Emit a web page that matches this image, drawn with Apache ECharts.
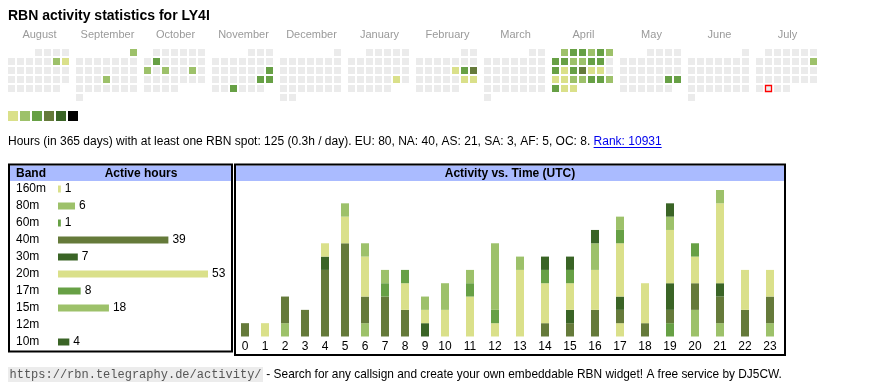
<!DOCTYPE html>
<html><head><meta charset="utf-8">
<script src="https://cdn.jsdelivr.net/npm/echarts@6/dist/echarts.min.js"></script>
<style>html,body{margin:0;padding:0;background:#fff}#c{width:870px;height:390px}</style>
</head><body><div id="c"></div>
<script>
// ---------- DATA ----------
const chartTitle = 'RBN activity statistics for LY4I';
const monthNames = ['August','September','October','November','December','January','February','March','April','May','June','July'];
const monthKeys = ['2024-08','2024-09','2024-10','2024-11','2024-12','2025-01','2025-02','2025-03','2025-04','2025-05','2025-06','2025-07'];
const levelColors = ['#dae08a','#9dc16a','#67a045','#657a3a','#3a6426','#000000'];
const activeDays = ['2024-08-10','2024-08-11','2024-09-01','2024-09-19','2024-10-08','2024-10-14','2024-10-16','2024-10-19',
  '2024-11-17','2024-11-23','2024-11-24','2024-11-27','2025-01-25','2025-02-14','2025-02-15','2025-02-16','2025-02-22','2025-02-23',
  '2025-04-01','2025-04-02','2025-04-03','2025-04-04','2025-04-05','2025-04-06','2025-04-07','2025-04-08','2025-04-09','2025-04-10',
  '2025-04-11','2025-04-12','2025-04-14','2025-04-15','2025-04-16','2025-04-17','2025-04-18','2025-04-19','2025-04-21','2025-04-22',
  '2025-04-23','2025-04-24','2025-04-25','2025-04-26','2025-04-27','2025-04-28','2025-04-29','2025-04-30','2025-05-24','2025-05-25','2025-07-13'];
const activeLevels = [2,1,2,2,3,2,2,2,
  3,3,3,3,1,1,3,4,1,1,
  2,3,3,2,3,2,3,3,2,2,
  3,3,3,1,3,4,1,1,1,1,
  2,2,3,3,2,3,1,1,3,3,2];
const todayDate = '2025-07-29';

const infoText = 'Hours (in 365 days) with at least one RBN spot: 125 (0.3h / day). EU: 80, NA: 40, AS: 21, SA: 3, AF: 5, OC: 8. ';
const rankText = 'Rank: 10931';

const bands = ['160m','80m','60m','40m','30m','20m','17m','15m','12m','10m'];
const bandHours = [1,6,1,39,7,53,8,18,0,4];
const bandColors = ['#dae08a','#9dc16a','#67a045','#657a3a','#3a6426','#dae08a','#67a045','#9dc16a','#657a3a','#3a6426'];

const hourLabels = ['0','1','2','3','4','5','6','7','8','9','10','11','12','13','14','15','16','17','18','19','20','21','22','23'];
const h160m = [0,0,0,0,0,0,0,0,0,0,0,0,0,0,0,0,0,1,0,0,0,0,0,0];
const h80m  = [0,0,1,0,0,0,1,0,0,0,0,0,0,0,0,0,0,0,0,0,2,1,0,1];
const h60m  = [0,0,0,0,0,0,0,0,0,0,0,0,0,0,0,0,0,0,0,1,0,0,0,0];
const h40m  = [1,0,2,2,5,7,2,3,2,0,0,0,0,0,1,1,2,1,1,1,2,2,2,2];
const h30m  = [0,0,0,0,1,0,0,0,0,1,0,0,0,0,0,1,0,1,0,2,0,1,0,0];
const h20m  = [0,1,0,0,1,2,3,0,2,1,2,3,1,5,3,2,3,4,3,4,2,6,3,2];
const h17m  = [0,0,0,0,0,0,0,1,1,0,0,1,1,0,1,1,0,1,0,0,1,0,0,0];
const h15m  = [0,0,0,0,0,1,1,1,0,1,2,1,5,1,0,0,2,1,0,1,0,1,0,0];
const h12m  = [0,0,0,0,0,0,0,0,0,0,0,0,0,0,0,0,0,0,0,0,0,0,0,0];
const h10m  = [0,0,0,0,0,0,0,0,0,0,0,0,0,0,1,1,1,0,0,1,0,0,0,0];
const hourlyByBand = [h160m,h80m,h60m,h40m,h30m,h20m,h17m,h15m,h12m,h10m];

const footerUrl = 'https://rbn.telegraphy.de/activity/';
const footerText = ' - Search for any callsign and create your own embeddable RBN widget! A free service by DJ5CW.';

// ---------- RENDER ----------
const FONT = '"Liberation Sans", Arial, Helvetica, sans-serif';
const MONO = '"Liberation Mono", "DejaVu Sans Mono", monospace';
const chart = echarts.init(document.getElementById('c'), null, {renderer: 'canvas', width: 870, height: 390});
const mctx = document.createElement('canvas').getContext('2d');
function textW(t, f) { mctx.font = f; return mctx.measureText(t).width; }

const calendars = monthKeys.map((k, m) => ({
  orient: 'vertical', range: k, cellSize: [9, 9], left: 7 + m * 68, top: 48,
  splitLine: {show: false},
  itemStyle: {color: '#ebebeb', borderColor: '#ffffff', borderWidth: 2},
  dayLabel: {show: false, firstDay: 1}, monthLabel: {show: false}, yearLabel: {show: false}, silent: true
}));

const series = [];
monthKeys.forEach((k, m) => {
  const data = [];
  activeDays.forEach((d, i) => {
    if (d.slice(0, 7) === k) data.push({value: [d, activeLevels[i]], itemStyle: {color: levelColors[activeLevels[i] - 1], opacity: 1}});
  });
  series.push({type: 'scatter', coordinateSystem: 'calendar', calendarIndex: m, symbol: 'rect', symbolSize: 7,
    itemStyle: {opacity: 1}, data: data, silent: true, animation: false});
});
series.push({type: 'scatter', coordinateSystem: 'calendar', calendarIndex: monthKeys.indexOf(todayDate.slice(0, 7)),
  symbol: 'rect', symbolSize: 6, z: 5, silent: true, animation: false,
  data: [{value: [todayDate, 0], itemStyle: {color: '#ebebeb', borderColor: '#ff0000', borderWidth: 1.3, opacity: 1}}],
  itemStyle: {color: '#ebebeb', borderColor: '#ff0000', borderWidth: 1.3, opacity: 1}});

const maxStack = Math.max(...hourLabels.map((h, i) => hourlyByBand.reduce((s, arr) => s + arr[i], 0)));
bands.forEach((b, bi) => {
  [0, 1].forEach(g => {
    const arr = g === 0 ? hourlyByBand[bi].slice(0, 10) : hourlyByBand[bi].slice(10);
    series.push({type: 'bar', xAxisIndex: g, yAxisIndex: g, stack: 'S' + g, barWidth: 8, name: b,
      data: arr, itemStyle: {color: bandColors[bi]}, silent: true, animation: false});
  });
});
series.push({type: 'bar', xAxisIndex: 2, yAxisIndex: 2, barWidth: 7, silent: true, animation: false,
  data: bandHours.map((v, i) => ({value: v, itemStyle: {color: bandColors[i]}})),
  label: {show: true, position: 'right', distance: 4, fontSize: 12, fontFamily: FONT, color: '#000',
    formatter: p => (p.value ? String(p.value) : '')}});

const hourAxisLabel = {fontSize: 12, fontFamily: FONT, color: '#000', margin: 4};
const xAxis = [
  {type: 'category', gridIndex: 0, data: hourLabels.slice(0, 10), axisLine: {show: false}, axisTick: {show: false}, axisLabel: hourAxisLabel},
  {type: 'category', gridIndex: 1, data: hourLabels.slice(10), axisLine: {show: false}, axisTick: {show: false}, axisLabel: hourAxisLabel},
  {type: 'value', gridIndex: 2, min: 0, max: Math.max(...bandHours), show: false}
];
const yAxis = [
  {type: 'value', gridIndex: 0, min: 0, max: maxStack, show: false},
  {type: 'value', gridIndex: 1, min: 0, max: maxStack, show: false},
  {type: 'category', gridIndex: 2, data: bands, inverse: true, axisLine: {show: false}, axisTick: {show: false},
    axisLabel: {align: 'left', margin: 42, fontSize: 12, fontFamily: FONT, color: '#000'}}
];
const grid = [
  {left: 235, top: 190, width: 200, height: 146.5},
  {left: 432.5, top: 190, width: 350, height: 146.5},
  {left: 58, top: 180.5, width: 150, height: 170}
];

const graphic = [];
function txt(t, x, y, font, fill, align) {
  graphic.push({type: 'text', x: x, y: y, silent: true,
    style: {text: t, font: font, fill: fill, textAlign: align || 'left', textVerticalAlign: 'middle'}});
}
txt(chartTitle, 8, 16, 'bold 14px ' + FONT, '#000');
monthNames.forEach((n, m) => txt(n, 8 + m * 68 + 31.5, 35, '11px ' + FONT, '#9a9a9a', 'center'));
levelColors.forEach((c, i) => graphic.push({type: 'rect', silent: true, shape: {x: 8 + i * 12, y: 111, width: 10, height: 10}, style: {fill: c}}));
const infoFont = '12px ' + FONT;
txt(infoText, 8, 142, infoFont, '#000');
const rankX = 8 + textW(infoText, infoFont);
txt(rankText, rankX, 142, infoFont, '#0000ee');
graphic.push({type: 'line', silent: true, shape: {x1: rankX, y1: 147.5, x2: rankX + textW(rankText, infoFont), y2: 147.5}, style: {stroke: '#0000ee', lineWidth: 1}});

// boxes
graphic.push({type: 'rect', silent: true, shape: {x: 10, y: 165.5, width: 221, height: 15.5}, style: {fill: '#aabbff'}});
graphic.push({type: 'rect', silent: true, shape: {x: 236, y: 165.5, width: 548, height: 15.5}, style: {fill: '#aabbff'}});
graphic.push({type: 'rect', silent: true, shape: {x: 9, y: 164.5, width: 223, height: 187}, style: {fill: 'none', stroke: '#000', lineWidth: 2}});
graphic.push({type: 'rect', silent: true, shape: {x: 235, y: 164.5, width: 550, height: 190.5}, style: {fill: 'none', stroke: '#000', lineWidth: 2}});
txt('Band', 16, 173.5, 'bold 12px ' + FONT, '#000');
txt('Active hours', 141, 173.5, 'bold 12px ' + FONT, '#000', 'center');
txt('Activity vs. Time (UTC)', 510, 173.5, 'bold 12px ' + FONT, '#000', 'center');

// footer
const monoFont = '12px ' + MONO;
const urlW = textW(footerUrl, monoFont);
graphic.push({type: 'rect', silent: true, shape: {x: 8, y: 367, width: urlW + 3, height: 15}, style: {fill: '#ececec'}});
txt(footerUrl, 9.5, 374.5, monoFont, '#555');
txt(footerText, 11 + urlW, 374.5, '11.9px ' + FONT, '#000');

chart.setOption({
  animation: false,
  backgroundColor: '#ffffff',
  calendar: calendars,
  grid: grid,
  xAxis: xAxis,
  yAxis: yAxis,
  series: series,
  graphic: graphic
});
</script>
</body></html>
